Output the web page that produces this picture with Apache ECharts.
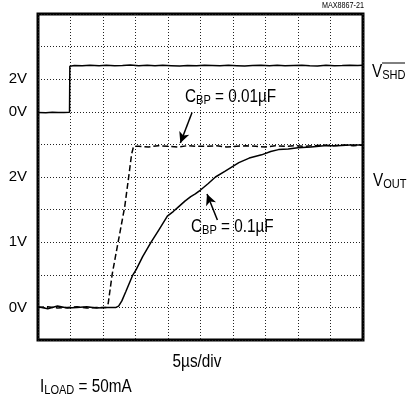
<!DOCTYPE html>
<html>
<head>
<meta charset="utf-8">
<script src="https://cdn.jsdelivr.net/npm/echarts@6/dist/echarts.min.js"></script>
<style>html,body{margin:0;padding:0;background:#fff}#c{width:407px;height:400px}</style>
</head>
<body>
<div id="c"></div>
<script>
// ---- data (time in µs, voltages in V) ----
const tShd = [0, 1.2, 2.2, 3.1, 4.0, 4.85, 4.9, 5.6, 6.8, 8.0, 9.4, 10.5, 11.8, 13.0, 14.2, 15.5, 16.8, 18.0, 19.2, 20.5, 21.8, 23.0, 24.4, 25.6, 26.8, 28.0, 29.3, 30.6, 31.8, 33.0, 34.3, 35.6, 36.8, 38.0, 39.3, 40.6, 41.8, 43.0, 44.3, 45.6, 46.8, 48.0, 49.2, 50];
const vShd = [-0.04, -0.06, -0.03, -0.05, -0.04, -0.03, 2.80, 2.84, 2.82, 2.86, 2.83, 2.85, 2.82, 2.84, 2.87, 2.83, 2.86, 2.82, 2.85, 2.83, 2.81, 2.84, 2.82, 2.86, 2.84, 2.82, 2.85, 2.83, 2.81, 2.84, 2.86, 2.83, 2.85, 2.82, 2.84, 2.86, 2.83, 2.81, 2.85, 2.83, 2.84, 2.86, 2.84, 2.85];

const tFast = [0, 1.5, 3.0, 4.5, 6.0, 7.5, 9.0, 10.5, 10.8, 11.4, 12.1, 12.7, 13.35, 13.95, 14.4, 14.7, 15.5, 17.0, 18.5, 20.0, 21.5, 23.0, 24.5, 26.0, 27.5, 29.0, 30.5, 32.0, 33.5, 35.0, 36.5, 38.0, 39.5, 41.0, 42.5, 44.0, 45.5, 47.0, 48.5, 50];
const vFast = [0.00, 0.01, -0.01, 0.00, 0.01, -0.01, 0.00, 0.00, 0.06, 0.50, 0.88, 1.20, 1.55, 2.00, 2.35, 2.47, 2.47, 2.46, 2.48, 2.47, 2.46, 2.48, 2.47, 2.47, 2.48, 2.46, 2.47, 2.48, 2.47, 2.46, 2.48, 2.47, 2.48, 2.47, 2.48, 2.49, 2.48, 2.49, 2.48, 2.49];

const tSlow = [0, 1.5, 3.0, 4.5, 6.0, 7.5, 9.0, 10.5, 12.0, 12.4, 12.9, 13.5, 14.0, 14.6, 15.1, 16.1, 17.4, 18.6, 19.9, 20.8, 21.7, 22.6, 23.5, 24.2, 25.0, 26.2, 27.3, 28.8, 30.9, 32.5, 34.4, 35.8, 37.0, 38.5, 40.0, 42.0, 44.0, 46.0, 48.0, 50];
const vSlow = [0.01, -0.02, 0.02, -0.01, 0.00, 0.01, -0.01, 0.00, 0.00, 0.02, 0.10, 0.24, 0.36, 0.50, 0.58, 0.78, 1.00, 1.19, 1.40, 1.47, 1.55, 1.63, 1.70, 1.74, 1.80, 1.90, 2.00, 2.09, 2.22, 2.29, 2.34, 2.39, 2.42, 2.43, 2.45, 2.46, 2.48, 2.48, 2.49, 2.49];

const shdTickLabels = {0: '0V', 2: '2V'};
const outTickLabels = {0: '0V', 1: '1V', 2: '2V'};

// annotation arrows in data coordinates [t, VOUT]
const arrowFast = [[23.7, 2.99], [21.9, 2.52]];
const arrowSlow = [[27.6, 1.34], [26.0, 1.74]];

const zip = (a, b) => a.map((x, i) => [x, b[i]]);
const FONT = '"Liberation Sans", Arial, sans-serif';
const SX = 0.85;

function tickFmt(map) {
  return function (v) {
    for (const k in map) { if (Math.abs(v - Number(k)) < 1e-6) return map[k]; }
    return '';
  };
}

function subText(x, y, main, sub, rest) {
  return {type: 'text', x: x, y: y, scaleX: SX,
    style: {text: '{m|' + main + '}{s|' + sub + '}' + (rest ? '{m|' + rest + '}' : ''), align: 'left', verticalAlign: 'middle',
      rich: {m: {fontSize: 18, fontFamily: FONT, fill: '#000', lineHeight: 18},
             s: {fontSize: 13, fontFamily: FONT, fill: '#000', lineHeight: 13, padding: [7, 0, 0, 0]}}}};
}

const chart = echarts.init(document.getElementById('c'), null, {renderer: 'canvas'});
const axisCommon = {
  type: 'value', position: 'left',
  axisLine: {show: false}, axisTick: {show: false},
};
const gridLine = {show: true, lineStyle: {color: '#222', type: [1, 2], width: 1}};

chart.setOption({
  animation: false,
  backgroundColor: '#fff',
  grid: {left: 38, right: 44, top: 14, bottom: 60, show: true, borderColor: '#000', borderWidth: 3, backgroundColor: 'transparent'},
  xAxis: {type: 'value', min: 0, max: 50, interval: 5, axisLine: {show: false}, axisTick: {show: false}, axisLabel: {show: false}, splitLine: gridLine},
  yAxis: [
    Object.assign({}, axisCommon, {min: -14, max: 6, interval: 2, splitLine: {show: false},
      axisLabel: {formatter: tickFmt(shdTickLabels), fontSize: 15, fontFamily: FONT, color: '#000', margin: 11, padding: [5, 0, 0, 0]}}),
    Object.assign({}, axisCommon, {min: -0.5, max: 4.5, interval: 0.5, splitLine: gridLine,
      axisLabel: {formatter: tickFmt(outTickLabels), fontSize: 15, fontFamily: FONT, color: '#000', margin: 11}})
  ],
  series: [
    {type: 'line', name: 'VSHD', yAxisIndex: 0, data: zip(tShd, vShd), showSymbol: false, symbol: 'none',
      lineStyle: {color: '#000', width: 1.5}},
    {type: 'line', name: 'CBP 0.01', yAxisIndex: 1, data: zip(tFast, vFast), showSymbol: false, symbol: 'none',
      lineStyle: {color: '#000', width: 1.5, type: [6, 3]}},
    {type: 'line', name: 'CBP 0.1', yAxisIndex: 1, data: zip(tSlow, vSlow), showSymbol: false, symbol: 'none',
      lineStyle: {color: '#000', width: 1.5},
      markLine: {silent: true, symbol: ['none', 'arrow'], symbolSize: [8, 11], label: {show: false},
        lineStyle: {color: '#000', width: 1.5, type: 'solid'},
        data: [
          [{coord: arrowFast[0]}, {coord: arrowFast[1]}],
          [{coord: arrowSlow[0]}, {coord: arrowSlow[1]}]
        ]}}
  ],
  graphic: [
    {type: 'text', x: 364, y: 6, scaleX: 0.8, style: {text: 'MAX8867-21', fontFamily: FONT, fontSize: 9, fill: '#000', align: 'right', verticalAlign: 'middle'}},
    subText(372, 72, 'V', 'SHD'),
    {type: 'line', shape: {x1: 382, y1: 63, x2: 405, y2: 63}, style: {stroke: '#000', lineWidth: 1}},
    subText(373, 181, 'V', 'OUT'),
    subText(185, 97, 'C', 'BP', ' = 0.01µF'),
    subText(191, 227, 'C', 'BP', ' = 0.1µF'),
    {type: 'text', x: 197, y: 362, scaleX: SX, style: {text: '5µs/div', fontFamily: FONT, fontSize: 18, fill: '#000', align: 'center', verticalAlign: 'middle'}},
    subText(40, 387, 'I', 'LOAD', ' = 50mA')
  ]
});
</script>
</body>
</html>
